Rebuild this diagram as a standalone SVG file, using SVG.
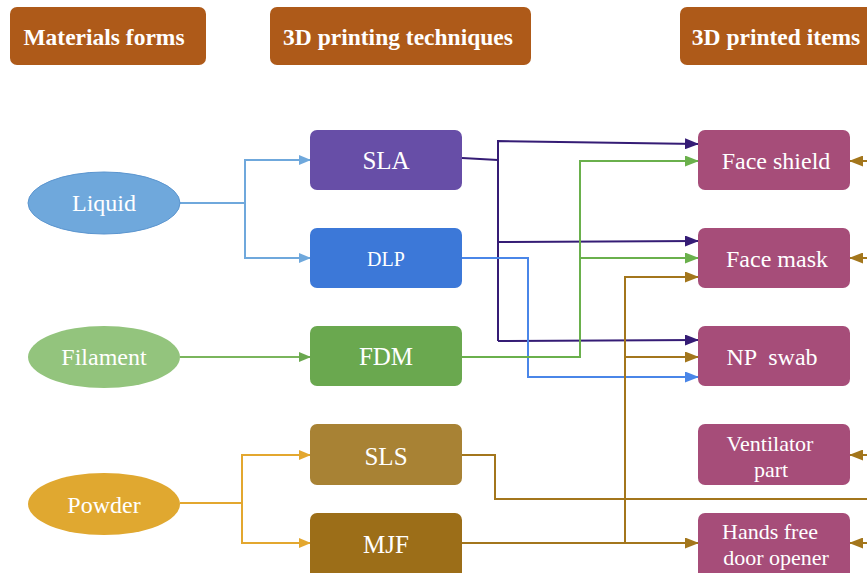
<svg xmlns="http://www.w3.org/2000/svg" width="867" height="573" viewBox="0 0 867 573">
<defs>
<marker id="aLiq" markerWidth="12" markerHeight="10" refX="11" refY="5" orient="auto" markerUnits="userSpaceOnUse"><path d="M0,0 L12,5 L0,10 z" fill="#6fa8dc"/></marker>
<marker id="aFil" markerWidth="12" markerHeight="10" refX="11" refY="5" orient="auto" markerUnits="userSpaceOnUse"><path d="M0,0 L12,5 L0,10 z" fill="#6aa84f"/></marker>
<marker id="aPow" markerWidth="12" markerHeight="10" refX="11" refY="5" orient="auto" markerUnits="userSpaceOnUse"><path d="M0,0 L12,5 L0,10 z" fill="#e3a72f"/></marker>
<marker id="aSla" markerWidth="14" markerHeight="11" refX="13" refY="5.5" orient="auto" markerUnits="userSpaceOnUse"><path d="M0,0 L14,5.5 L0,11 z" fill="#351c75"/></marker>
<marker id="aDlp" markerWidth="14" markerHeight="11" refX="13" refY="5.5" orient="auto" markerUnits="userSpaceOnUse"><path d="M0,0 L14,5.5 L0,11 z" fill="#4a86e8"/></marker>
<marker id="aFdm" markerWidth="14" markerHeight="11" refX="13" refY="5.5" orient="auto" markerUnits="userSpaceOnUse"><path d="M0,0 L14,5.5 L0,11 z" fill="#6ab04c"/></marker>
<marker id="aBr" markerWidth="14" markerHeight="11" refX="13" refY="5.5" orient="auto" markerUnits="userSpaceOnUse"><path d="M0,0 L14,5.5 L0,11 z" fill="#a3761c"/></marker>
</defs>
<style>
.hdr{fill:#ae5a19}
.ht{font-family:'Liberation Serif','Times New Roman',serif;font-weight:bold;font-size:23.5px;fill:#ffffff;text-anchor:middle}
.t{font-family:'Liberation Serif','Times New Roman',serif;font-size:24px;fill:#ffffff;text-anchor:middle}
.tt{font-size:25px}
.t2{font-size:22px}
.item{fill:#a64d79}
.c{fill:none;stroke-width:2}
</style>
<rect width="867" height="573" fill="#ffffff"/>
<g id="headers">
<g id="h1"><rect class="hdr" x="10" y="7" width="196" height="58" rx="7"/><text class="ht" x="104" y="45">Materials forms</text></g>
<g id="h2"><rect class="hdr" x="270" y="7" width="261" height="58" rx="7"/><text class="ht" x="398" y="45">3D printing techniques</text></g>
<g id="h3"><rect class="hdr" x="680" y="7" width="196" height="58" rx="7"/><text class="ht" x="776" y="45">3D printed items</text></g>
</g>
<g id="connectors">
<path class="c" stroke="#6fa8dc" d="M180,203 H245 V160 H310" marker-end="url(#aLiq)"/>
<path class="c" stroke="#6fa8dc" d="M245,203 V258 H310" marker-end="url(#aLiq)"/>
<path class="c" stroke="#7ab55c" d="M180,357 H310" marker-end="url(#aFil)"/>
<path class="c" stroke="#e3a72f" d="M180,503 H242 V455 H310" marker-end="url(#aPow)"/>
<path class="c" stroke="#e3a72f" d="M242,503 V543 H310" marker-end="url(#aPow)"/>
<path class="c" stroke="#351c75" d="M462,158 L498,160"/>
<path class="c" stroke="#351c75" d="M498,341 V141 L698,144" marker-end="url(#aSla)"/>
<path class="c" stroke="#351c75" d="M498,242 L698,241" marker-end="url(#aSla)"/>
<path class="c" stroke="#351c75" d="M498,341 L698,340" marker-end="url(#aSla)"/>
<path class="c" stroke="#4a86e8" d="M462,258 H528 V377 H698" marker-end="url(#aDlp)"/>
<path class="c" stroke="#6ab04c" d="M462,357 H580 V161 H698" marker-end="url(#aFdm)"/>
<path class="c" stroke="#6ab04c" d="M580,258 H698" marker-end="url(#aFdm)"/>
<path class="c" stroke="#a3761c" d="M462,543 H698" marker-end="url(#aBr)"/>
<path class="c" stroke="#a3761c" d="M625,543 V277 H698" marker-end="url(#aBr)"/>
<path class="c" stroke="#a3761c" d="M625,357 H698" marker-end="url(#aBr)"/>
<path class="c" stroke="#a3761c" d="M462,455 H495 V499 H867"/>
<path class="c" stroke="#a3761c" d="M867,161 H850" marker-end="url(#aBr)"/>
<path class="c" stroke="#a3761c" d="M867,258 H850" marker-end="url(#aBr)"/>
<path class="c" stroke="#a3761c" d="M867,455 H850" marker-end="url(#aBr)"/>
<path class="c" stroke="#a3761c" d="M867,543 H850" marker-end="url(#aBr)"/>
</g>
<g id="liquid"><ellipse cx="104" cy="203" rx="76" ry="31" fill="#6fa8dc" stroke="#5b95cf" stroke-width="1"/><text class="t" x="104" y="211">Liquid</text></g>
<g id="filament"><ellipse cx="104" cy="357" rx="76" ry="31" fill="#93c47d"/><text class="t" x="104" y="365">Filament</text></g>
<g id="powder"><ellipse cx="104" cy="504" rx="76" ry="31" fill="#e0a830"/><text class="t" x="104" y="513">Powder</text></g>
<g id="sla"><rect x="310" y="130" width="152" height="60" rx="7" fill="#674ea7"/><text class="t tt" x="386" y="169">SLA</text></g>
<g id="dlp"><rect x="310" y="228" width="152" height="60" rx="7" fill="#3c78d8"/><text class="t" x="386" y="266" style="font-size:20px">DLP</text></g>
<g id="fdm"><rect x="310" y="326" width="152" height="60" rx="7" fill="#6aa84f"/><text class="t tt" x="386" y="365">FDM</text></g>
<g id="sls"><rect x="310" y="424" width="152" height="61" rx="7" fill="#a88234"/><text class="t tt" x="386" y="465">SLS</text></g>
<g id="mjf"><rect x="310" y="513" width="152" height="66" rx="7" fill="#9c6e18"/><text class="t tt" x="386" y="553">MJF</text></g>
<g id="faceshield"><rect class="item" x="698" y="130" width="152" height="60" rx="7"/><text class="t" x="776" y="169">Face shield</text></g>
<g id="facemask"><rect class="item" x="698" y="228" width="152" height="60" rx="7"/><text class="t" x="777" y="267">Face mask</text></g>
<g id="npswab"><rect class="item" x="698" y="326" width="152" height="60" rx="7"/><text class="t" x="772" y="365" xml:space="preserve">NP  swab</text></g>
<g id="ventilator"><rect class="item" x="698" y="424" width="152" height="61" rx="7"/><text class="t t2" x="770" y="451">Ventilator</text><text class="t t2" x="771" y="477">part</text></g>
<g id="handsfree"><rect class="item" x="698" y="513" width="152" height="66" rx="7"/><text class="t t2" x="770" y="539">Hands free</text><text class="t t2" x="776" y="565">door opener</text></g>
</svg>
